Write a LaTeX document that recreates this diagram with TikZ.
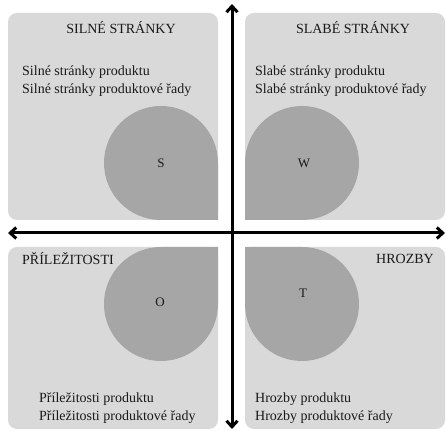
\documentclass[tikz,border=0pt]{standalone}
\usepackage{fontspec}
\setmainfont{Liberation Serif}
\usetikzlibrary{arrows.meta}
\begin{document}
\begin{tikzpicture}
	[x=1pt,y=1pt,
	box/.style={fill=black!15,rounded corners=9pt},
	drop/.style={fill=black!35},
	axis/.style={line width=3pt,{Straight Barb[length=6pt,width=11pt]}-{Straight Barb[length=6pt,width=11pt]}},
	head/.style={font=\fontsize{14}{16}\selectfont,text=black!90,inner sep=0pt},
	body/.style={font=\fontsize{14}{18}\selectfont,text=black!90,inner sep=0pt,align=left,anchor=west},
	letter/.style={font=\fontsize{13}{15}\selectfont,text=black!90,inner sep=0pt}]
	\useasboundingbox (0,0) rectangle (446,430);
	% quadrants
	\fill [box] (8,210) rectangle (218,417);
	\fill [box] (245,210) rectangle (445,417);
	\fill [box] (8,1) rectangle (218,183);
	\fill [box] (245,1) rectangle (445,183);
	% drops
	\fill [drop] (218,267) -- (218,210) -- (161,210) arc[start angle=270,end angle=0,radius=57] -- cycle;
	\fill [drop] (245,267) -- (245,210) -- (302,210) arc[start angle=-90,end angle=180,radius=57] -- cycle;
	\fill [drop] (161,183) -- (218,183) -- (218,126) arc[start angle=0,end angle=-270,radius=57] -- cycle;
	\fill [drop] (245,126) -- (245,183) -- (302,183) arc[start angle=90,end angle=-180,radius=57] -- cycle;
	% axes
	\coordinate (top) at (232,426);
	\coordinate (bottom) at (232,1);
	\coordinate (left) at (8,197);
	\coordinate (right) at (445,197);
	\draw [axis] (bottom) -- (top);
	\draw [axis] (left) -- (right);
	% texts
	\node (sh) at (121,402) [head] {SILNÉ STRÁNKY};
	\node (wh) at (353,402) [head] {SLABÉ STRÁNKY};
	\node (oh) at (22,171) [head,anchor=west] {PŘÍLEŽITOSTI};
	\node (th) at (434,171) [head,anchor=east] {HROZBY};
	\node (sb) at (22,349) [body] {Silné stránky produktu\\Silné stránky produktové řady};
	\node (wb) at (255,349) [body] {Slabé stránky produktu\\Slabé stránky produktové řady};
	\node (ob) at (39,22) [body] {Příležitosti produktu\\Příležitosti produktové řady};
	\node (tb) at (255,22) [body] {Hrozby produktu\\Hrozby produktové řady};
	\node (s) at (161,267) [letter] {S};
	\node (w) at (304,267) [letter] {W};
	\node (o) at (160,128) [letter] {O};
	\node (t) at (303,137) [letter] {T};
\end{tikzpicture}
\end{document}
